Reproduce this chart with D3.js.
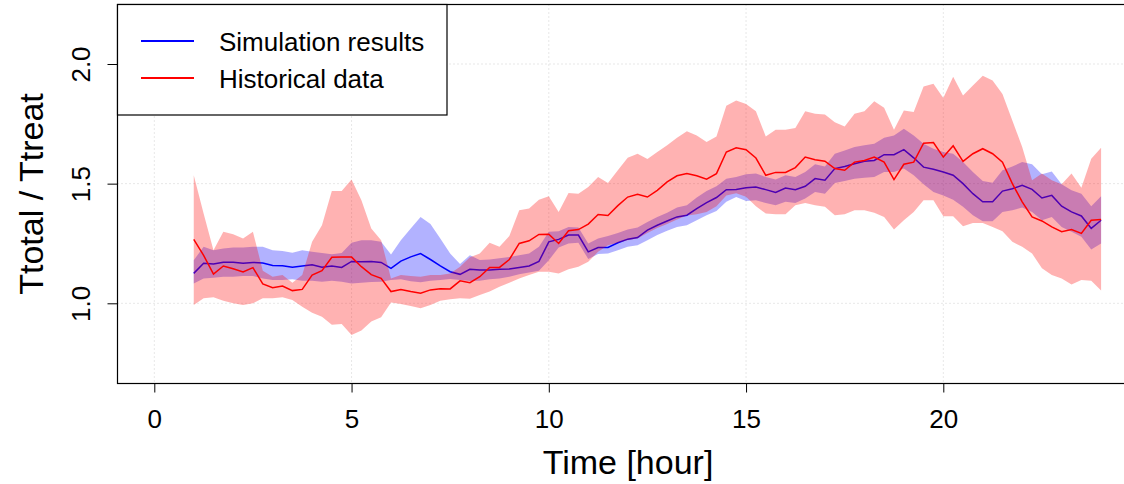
<!DOCTYPE html>
<html>
<head>
<meta charset="utf-8">
<script src="https://cdn.jsdelivr.net/npm/d3@7"></script>
<style>
  html, body { margin: 0; padding: 0; background: #fff; }
  svg { display: block; font-family: "Liberation Sans", Arial, Helvetica, sans-serif; }
</style>
</head>
<body>
<div id="chart"></div>
<script>
// time grid: every 15 minutes from 1h to 24h
const timeHours = d3.range(1, 24.001, 0.25);

// simulation results (mean, lower and upper envelope)
const simMean = [1.125,1.167,1.164,1.172,1.172,1.167,1.171,1.168,1.158,1.157,
  1.151,1.156,1.161,1.151,1.156,1.150,1.175,1.174,1.175,1.171,
  1.146,1.176,1.194,1.208,1.183,1.156,1.132,1.121,1.142,1.139,
  1.139,1.142,1.143,1.150,1.156,1.175,1.257,1.267,1.285,1.285,
  1.215,1.233,1.233,1.253,1.268,1.275,1.306,1.326,1.344,1.361,
  1.368,1.396,1.421,1.442,1.475,1.476,1.483,1.486,1.475,1.463,
  1.482,1.475,1.489,1.521,1.514,1.563,1.572,1.583,1.594,1.597,
  1.621,1.621,1.642,1.608,1.569,1.560,1.549,1.535,1.500,1.458,
  1.424,1.424,1.469,1.479,1.493,1.476,1.440,1.451,1.406,1.382,
  1.365,1.313,1.347];
const simHigh = [1.180,1.236,1.222,1.229,1.233,1.233,1.236,1.236,1.222,1.219,
  1.211,1.222,1.215,1.210,1.205,1.210,1.253,1.264,1.264,1.257,
  1.204,1.264,1.313,1.361,1.331,1.271,1.208,1.164,1.201,1.181,
  1.183,1.188,1.194,1.201,1.208,1.236,1.299,1.301,1.319,1.317,
  1.250,1.271,1.281,1.294,1.308,1.317,1.340,1.361,1.378,1.400,
  1.410,1.442,1.469,1.489,1.521,1.528,1.539,1.542,1.528,1.517,
  1.535,1.528,1.549,1.581,1.572,1.625,1.639,1.653,1.660,1.667,
  1.692,1.701,1.729,1.701,1.667,1.646,1.632,1.625,1.590,1.549,
  1.511,1.504,1.556,1.572,1.590,1.581,1.539,1.551,1.497,1.472,
  1.458,1.406,1.447];
const simLow = [1.083,1.104,1.107,1.111,1.111,1.114,1.114,1.104,1.097,1.097,
  1.100,1.094,1.094,1.090,1.094,1.090,1.083,1.086,1.089,1.090,
  1.097,1.100,1.092,1.088,1.094,1.097,1.102,1.097,1.093,1.094,
  1.100,1.104,1.111,1.121,1.129,1.136,1.180,1.233,1.250,1.253,
  1.185,1.206,1.208,1.222,1.236,1.243,1.264,1.285,1.303,1.319,
  1.326,1.347,1.368,1.386,1.424,1.444,1.428,1.431,1.419,1.410,
  1.424,1.419,1.438,1.465,1.458,1.503,1.511,1.521,1.525,1.528,
  1.549,1.549,1.563,1.535,1.497,1.465,1.451,1.433,1.403,1.368,
  1.343,1.343,1.382,1.389,1.400,1.382,1.347,1.361,1.319,1.299,
  1.278,1.225,1.250];

// historical data (mean, lower and upper envelope)
const histMean = [1.267,1.200,1.122,1.156,1.144,1.131,1.149,1.081,1.065,1.072,
  1.053,1.058,1.118,1.136,1.192,1.193,1.193,1.153,1.120,1.104,
  1.049,1.058,1.049,1.042,1.056,1.061,1.060,1.094,1.086,1.111,
  1.150,1.150,1.183,1.250,1.261,1.288,1.289,1.250,1.303,1.308,
  1.331,1.371,1.367,1.408,1.444,1.456,1.444,1.472,1.507,1.533,
  1.542,1.533,1.519,1.542,1.632,1.650,1.642,1.607,1.535,1.547,
  1.547,1.567,1.611,1.600,1.594,1.563,1.556,1.590,1.597,1.611,
  1.590,1.517,1.581,1.590,1.669,1.672,1.611,1.658,1.593,1.625,
  1.646,1.625,1.590,1.500,1.424,1.361,1.344,1.319,1.299,1.308,
  1.292,1.347,1.350];
const histHigh = [1.535,1.375,1.222,1.299,1.289,1.271,1.299,1.136,1.111,1.118,
  1.086,1.118,1.257,1.326,1.469,1.469,1.517,1.431,1.313,1.264,
  1.104,1.118,1.114,1.111,1.118,1.118,1.125,1.153,1.192,1.208,
  1.253,1.236,1.281,1.389,1.396,1.433,1.447,1.382,1.461,1.458,
  1.486,1.528,1.503,1.556,1.608,1.625,1.603,1.632,1.660,1.692,
  1.719,1.701,1.674,1.697,1.826,1.847,1.833,1.803,1.697,1.725,
  1.725,1.733,1.803,1.792,1.789,1.757,1.739,1.792,1.803,1.844,
  1.817,1.725,1.806,1.799,1.906,1.917,1.858,1.947,1.868,1.910,
  1.951,1.931,1.875,1.764,1.653,1.514,1.542,1.514,1.497,1.542,
  1.483,1.604,1.650];
const histLow = [0.993,1.021,1.025,1.011,1.000,0.993,1.000,1.021,1.021,1.025,
  1.014,0.986,0.961,0.944,0.910,0.914,0.868,0.886,0.924,0.942,
  1.003,0.997,0.989,0.979,0.993,1.011,1.017,1.021,1.019,1.035,
  1.049,1.069,1.086,1.104,1.118,1.132,1.132,1.125,1.142,1.153,
  1.174,1.215,1.243,1.253,1.264,1.271,1.294,1.315,1.331,1.350,
  1.367,1.372,1.382,1.406,1.450,1.460,1.445,1.406,1.375,1.372,
  1.372,1.410,1.419,1.410,1.403,1.368,1.372,1.389,1.389,1.378,
  1.361,1.308,1.347,1.382,1.431,1.431,1.364,1.364,1.322,1.336,
  1.336,1.319,1.301,1.257,1.236,1.208,1.146,1.118,1.104,1.079,
  1.097,1.094,1.053];

const xTicks = [0, 5, 10, 15, 20];
const yTicks = [1.0, 1.5, 2.0];
const legendLabels = ["Simulation results", "Historical data"];
const legendColors = ["#0000ff", "#ff0000"];

const width = 1124, height = 484;
const box = {left: 117.5, top: 4.5, right: 1139, bottom: 383.5};

const svg = d3.select("#chart").append("svg")
  .attr("width", width)
  .attr("height", height);

const x = d3.scaleLinear().domain([0, 20]).range([154.3, 943.3]);
const y = d3.scaleLinear().domain([1, 2]).range([303.3, 64]);

svg.append("defs").append("clipPath").attr("id", "clip")
  .append("rect")
  .attr("x", box.left).attr("y", box.top)
  .attr("width", box.right - box.left).attr("height", box.bottom - box.top);

const rows = timeHours.map((t, i) => ({
  t,
  sm: simMean[i], sl: simLow[i], sh: simHigh[i],
  hm: histMean[i], hl: histLow[i], hh: histHigh[i]
}));

// grid
const grid = svg.append("g").attr("stroke", "#cfcfcf").attr("stroke-dasharray", "1,3");
grid.selectAll("line.v").data(xTicks).join("line")
  .attr("x1", d => x(d)).attr("x2", d => x(d))
  .attr("y1", box.top).attr("y2", box.bottom);
grid.selectAll("line.h").data(yTicks).join("line")
  .attr("x1", box.left).attr("x2", box.right)
  .attr("y1", d => y(d)).attr("y2", d => y(d));

const plotG = svg.append("g").attr("clip-path", "url(#clip)");

const simArea = d3.area().x(d => x(d.t)).y0(d => y(d.sl)).y1(d => y(d.sh));
const histArea = d3.area().x(d => x(d.t)).y0(d => y(d.hl)).y1(d => y(d.hh));

plotG.append("path").datum(rows)
  .attr("d", simArea)
  .attr("fill", "rgba(0,0,255,0.3)");

plotG.append("path").datum(rows)
  .attr("d", d3.line().x(d => x(d.t)).y(d => y(d.sm)))
  .attr("fill", "none").attr("stroke", "#0000ff").attr("stroke-width", 1.5);

plotG.append("path").datum(rows)
  .attr("d", histArea)
  .attr("fill", "rgba(255,0,0,0.3)");

plotG.append("path").datum(rows)
  .attr("d", d3.line().x(d => x(d.t)).y(d => y(d.hm)))
  .attr("fill", "none").attr("stroke", "#ff0000").attr("stroke-width", 1.5);

// frame
svg.append("rect")
  .attr("x", box.left).attr("y", box.top)
  .attr("width", box.right - box.left).attr("height", box.bottom - box.top)
  .attr("fill", "none").attr("stroke", "#000").attr("stroke-width", 1.2);

// axes
const xAxis = svg.append("g")
  .attr("transform", `translate(0,${box.bottom})`)
  .call(d3.axisBottom(x).tickValues(xTicks).tickSize(9).tickPadding(17).tickFormat(d3.format("d")));
xAxis.select(".domain").remove();
xAxis.selectAll("text").style("font-size", "26px").attr("fill", "#000");

const yAxis = svg.append("g")
  .attr("transform", `translate(${box.left},0)`)
  .call(d3.axisLeft(y).tickValues(yTicks).tickSize(10).tickFormat(d3.format(".1f")));
yAxis.select(".domain").remove();
yAxis.selectAll("text")
  .attr("transform", "rotate(-90)")
  .attr("x", 0).attr("y", -28).attr("dy", 0)
  .style("text-anchor", "middle")
  .style("font-size", "26px").attr("fill", "#000");

// axis titles
svg.append("text")
  .attr("x", 628).attr("y", 474)
  .attr("text-anchor", "middle")
  .style("font-size", "34px")
  .text("Time [hour]");

svg.append("text")
  .attr("transform", "translate(43,194) rotate(-90)")
  .attr("text-anchor", "middle")
  .style("font-size", "34px")
  .text("Ttotal / Ttreat");

// legend
const legend = svg.append("g");
legend.append("rect")
  .attr("x", box.left).attr("y", box.top)
  .attr("width", 329.5).attr("height", 110.5)
  .attr("fill", "#fff").attr("stroke", "#000").attr("stroke-width", 1.2);
legendLabels.forEach((lab, i) => {
  const ly = 41 + i * 37;
  legend.append("line")
    .attr("x1", 141).attr("x2", 194).attr("y1", ly).attr("y2", ly)
    .attr("stroke", legendColors[i]).attr("stroke-width", 2);
  legend.append("text")
    .attr("x", 219).attr("y", ly + 10)
    .style("font-size", "26px")
    .text(lab);
});
</script>
</body>
</html>
